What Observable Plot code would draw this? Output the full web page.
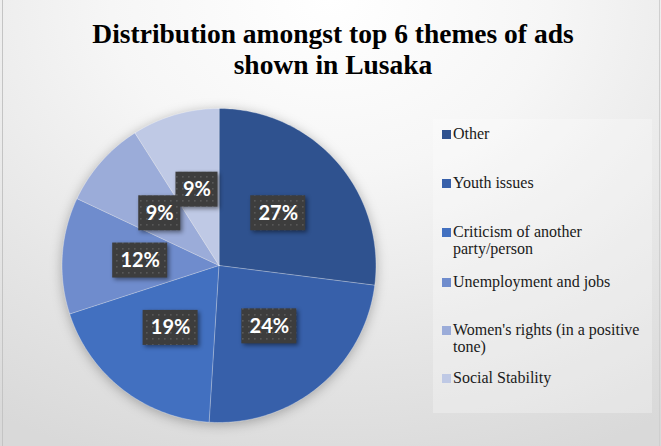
<!DOCTYPE html>
<html><head><meta charset="utf-8">
<script src="https://cdn.jsdelivr.net/npm/d3@7"></script>
<script src="https://cdn.jsdelivr.net/npm/@observablehq/plot@0.6"></script>
<style>
html,body{margin:0;padding:0;background:#fff;}
#chart{position:relative;width:661px;height:446px;overflow:hidden;
  background:radial-gradient(ellipse 95% 110% at 50% 0%, #ffffff 0%, #f6f6f6 35%, #e6e6e6 70%, #d9d9d9 100%);}
#chart .bl{position:absolute;left:2px;top:0;width:1px;height:446px;background:#c4c4c4;}
#chart .br{position:absolute;left:659px;top:0;width:1px;height:446px;background:#cfcfcf;}
#title{position:absolute;left:0;top:18px;width:666px;text-align:center;font-family:"Liberation Serif","Times New Roman",serif;
  font-weight:bold;font-size:27.5px;line-height:31px;color:#000;}
#legend{position:absolute;left:433px;top:119px;width:219px;height:294px;background:rgba(255,255,255,0.28);}
.lg-item{position:absolute;font-family:"Liberation Serif","Times New Roman",serif;font-size:16px;line-height:17px;color:#1a1a1a;white-space:nowrap;}
.lg-sw{position:absolute;width:9px;height:9px;}
#plot{position:absolute;left:0;top:0;}
</style></head><body>
<div id="chart"><div class="bl"></div><div class="br"></div>
<div id="title">Distribution amongst top 6 themes of ads<br>shown in Lusaka</div>
<div id="legend"></div>
<div id="plot"></div>
</div>
<script>
// ---- data ----
const themes = ["Other", "Youth issues", "Criticism of another party/person", "Unemployment and jobs", "Women's rights (in a positive tone)", "Social Stability"];
const legendLabels = [["Other"], ["Youth issues"], ["Criticism of another", "party/person"], ["Unemployment and jobs"], ["Women's rights (in a positive", "tone)"], ["Social Stability"]];
const shares = [27, 24, 19, 12, 9, 9];
const percentLabels = ["27%", "24%", "19%", "12%", "9%", "9%"];
const colors = ["#2F528F", "#3760AA", "#4270C0", "#6F8CCD", "#9BACD9", "#BFC9E5"];

// ---- layout ----
const W = 661, H = 446, CX = 218.5, CY = 265, R = 157;

const arcs = d3.pie().sort(null).value(d => d)(shares);
const outline = [];
arcs.forEach((a, i) => {
  const n = Math.max(2, Math.ceil((a.endAngle - a.startAngle) / (Math.PI / 180)));
  outline.push({theme: themes[i], x: 0, y: 0});
  for (let k = 0; k <= n; k++) {
    const t = a.startAngle + (a.endAngle - a.startAngle) * k / n;
    outline.push({theme: themes[i], x: Math.sin(t), y: Math.cos(t)});
  }
});
const labelR = 0.503;
const boxes = arcs.map((a, i) => {
  const m = (a.startAngle + a.endAngle) / 2;
  const lx = labelR * Math.sin(m), ly = labelR * Math.cos(m);
  const hw = (percentLabels[i].length === 3 ? 27.5 : 21) / R, hh = 17.5 / R;
  return {theme: themes[i], label: percentLabels[i], lx, ly, x1: lx - hw, x2: lx + hw, y1: ly - hh, y2: ly + hh};
});

const svg = Plot.plot({
  width: W, height: H, margin: 0,
  style: {background: "transparent", overflow: "visible"},
  x: {domain: [-1, 1], range: [CX - R, CX + R], axis: null},
  y: {domain: [-1, 1], range: [CY + R, CY - R], axis: null},
  color: {domain: themes, range: colors},
  marks: [
    Plot.line(outline, {x: "x", y: "y", z: "theme", fill: "theme", stroke: "#ffffff", strokeOpacity: 0.45, strokeWidth: 0.7, curve: "linear-closed"}),
    Plot.rect(boxes, {x1: "x1", x2: "x2", y1: "y1", y2: "y2", fill: "#404040"}),
    Plot.text(boxes, {x: "lx", y: "ly", text: "label", fill: "white", fontSize: 20, fontWeight: "bold", fontFamily: "Lato, 'Open Sans', sans-serif"})
  ]
});
document.getElementById("plot").appendChild(svg);

// pattern + shadows
const ns = "http://www.w3.org/2000/svg";
const defs = document.createElementNS(ns, "defs");
defs.innerHTML = `<pattern id="dots" width="6" height="6" patternUnits="userSpaceOnUse">
  <rect width="6" height="6" fill="#3d3d3d"/><rect x="2" y="2" width="1.6" height="1.6" fill="#585858"/></pattern>`;
svg.insertBefore(defs, svg.firstChild);
const groups = svg.querySelectorAll("g[aria-label]");
groups.forEach(g => {
  const lab = g.getAttribute("aria-label");
  if (lab === "line") g.style.filter = "drop-shadow(0px 2px 6px rgba(0,0,0,0.28))";
  if (lab === "rect") {
    g.style.filter = "drop-shadow(2px 2px 2px rgba(0,0,0,0.45))";
    g.querySelectorAll("rect").forEach(r => r.setAttribute("fill", "url(#dots)"));
  }
});

// legend
const legend = document.getElementById("legend");
const baselines = [139, 188, 237, 287, 335, 383];
legendLabels.forEach((lines, i) => {
  const sw = document.createElement("div");
  sw.className = "lg-sw";
  sw.style.left = (442 - 433) + "px";
  sw.style.top = (baselines[i] - 9 - 119) + "px";
  sw.style.background = colors[i];
  legend.appendChild(sw);
  const t = document.createElement("div");
  t.className = "lg-item";
  t.style.left = (453 - 433) + "px";
  t.style.top = (baselines[i] - 13.6 - 119) + "px";
  t.innerHTML = lines.join("<br>");
  legend.appendChild(t);
});
</script>
</body></html>
